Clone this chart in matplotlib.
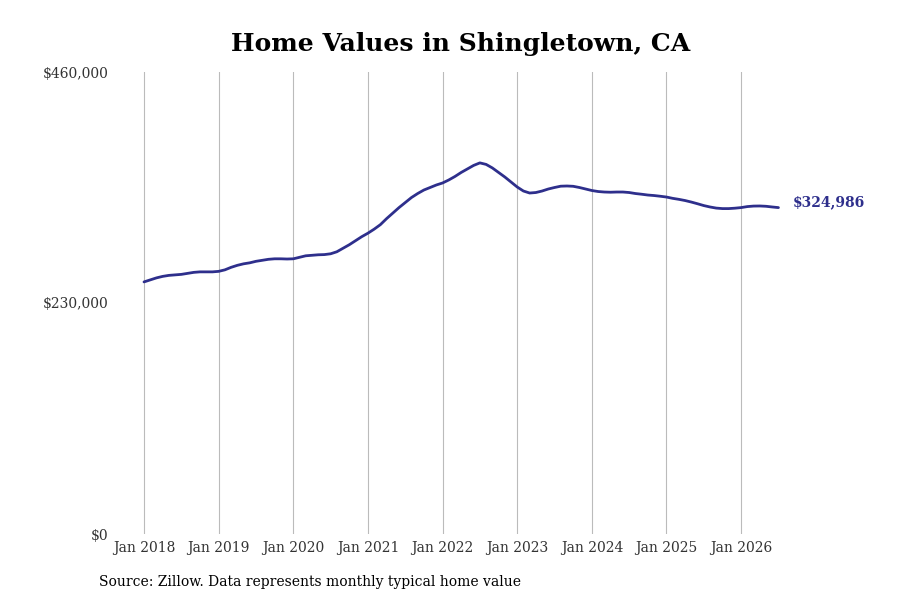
import numpy as np
import matplotlib.pyplot as plt

# monthly typical home value, Jan 2018 .. Jul 2026 (thousands of $)
values_k = [
    251, 253, 255, 256.5, 257.5, 258, 258.5, 259.5, 260.5, 261, 261, 261,
    261.5, 263, 265.5, 267.5, 269, 270, 271.5, 272.5, 273.5, 274, 274, 273.8,
    274, 275.5, 277, 277.5, 278, 278.2, 279, 281, 284.5, 288, 292, 296,
    299.5, 303.5, 308, 314, 319.5, 325, 330, 335, 339, 342.5, 345, 347.5,
    349.5, 352.5, 356, 360, 363.5, 367, 369.5, 368, 364.5, 360, 355.5, 350.5,
    345.5, 341.5, 339.5, 340, 341.5, 343.5, 345, 346.3, 346.5, 346.2, 345, 343.5,
    342, 341, 340.5, 340.3, 340.5, 340.5, 340, 339, 338.3, 337.5, 337, 336.3,
    335.5, 334.2, 333.2, 332, 330.5, 328.8, 327, 325.6, 324.5, 324, 324, 324.4,
    325, 326, 326.5, 326.6, 326.3, 325.6, 324.986,
]
tick_labels = ["Jan 2018", "Jan 2019", "Jan 2020", "Jan 2021", "Jan 2022",
               "Jan 2023", "Jan 2024", "Jan 2025", "Jan 2026"]
y_ticks = [0, 230000, 460000]
y_labels = ["$0", "$230,000", "$460,000"]
last_label = "$324,986"

values = np.array(values_k) * 1000
months = np.arange(len(values))

plt.rcParams['font.family'] = ['DejaVu Serif']
line_color = '#2e2f8c'

fig = plt.figure(figsize=(9, 6), dpi=100)
ax = fig.add_axes([110 / 900, 0.11, 770 / 900, 0.77])

ax.plot(months, values, color=line_color, lw=2.0, solid_capstyle='round')
ax.annotate(last_label, (months[-1], values[-1]), xytext=(14, 5),
            textcoords='offset pixels', color=line_color,
            fontsize=10, fontweight='bold', va='center', ha='left')

ax.set_ylim(0, 460000)
ax.set_xlim(-34 / 6.22, (880 - 144) / 6.22)
ax.set_yticks(y_ticks)
ax.set_yticklabels(y_labels)
ax.set_xticks(np.arange(0, 97, 12))
ax.set_xticklabels(tick_labels)
ax.tick_params(length=0, labelsize=10, labelcolor='#333333')
ax.tick_params(axis='y', pad=1)
ax.tick_params(axis='x', pad=5)
ax.grid(axis='x', color='#bbbbbb', lw=0.8)
ax.set_axisbelow(True)
for s in ax.spines.values():
    s.set_visible(False)

fig.text(0.512, 0.927, "Home Values in Shingletown, CA", ha='center', va='center',
         fontsize=18, fontweight='bold')
fig.text(99 / 900, 1 - 582 / 600, "Source: Zillow. Data represents monthly typical home value",
         ha='left', va='center', fontsize=10)

fig.savefig('out.png', dpi=100)
